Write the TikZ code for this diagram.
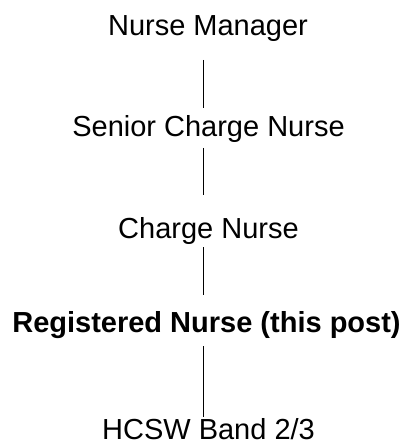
\documentclass[tikz,border=0pt]{standalone}
\usepackage{fontspec}
\setmainfont{Liberation Sans}
\begin{document}
\begin{tikzpicture}[x=1pt,y=-1pt,
  role/.style={anchor=base,inner sep=0pt,font=\fontsize{29}{34}\selectfont},
  link/.style={line width=1pt}]
\useasboundingbox (0,0) rectangle (408,443);
\node[role] (nm) at (208,36) {Nurse Manager};
\node[role] (scn) at (208.5,137) {Senior Charge Nurse};
\node[role] (cn) at (208.5,238) {Charge Nurse};
\node[role,font=\fontsize{29}{34}\selectfont\bfseries] (rn) at (206.5,332) {Registered Nurse (this post)};
\node[role] (hc) at (208.5,439.5) {HCSW Band 2/3};
\coordinate (l1a) at (203.5,60);  \coordinate (l1b) at (203.5,108);
\coordinate (l2a) at (203.5,148); \coordinate (l2b) at (203.5,195);
\coordinate (l3a) at (203.5,247); \coordinate (l3b) at (203.5,295);
\coordinate (l4a) at (203.5,346); \coordinate (l4b) at (203.5,417);
\draw[link] (l1a) -- (l1b);
\draw[link] (l2a) -- (l2b);
\draw[link] (l3a) -- (l3b);
\draw[link] (l4a) -- (l4b);
\end{tikzpicture}
\end{document}
